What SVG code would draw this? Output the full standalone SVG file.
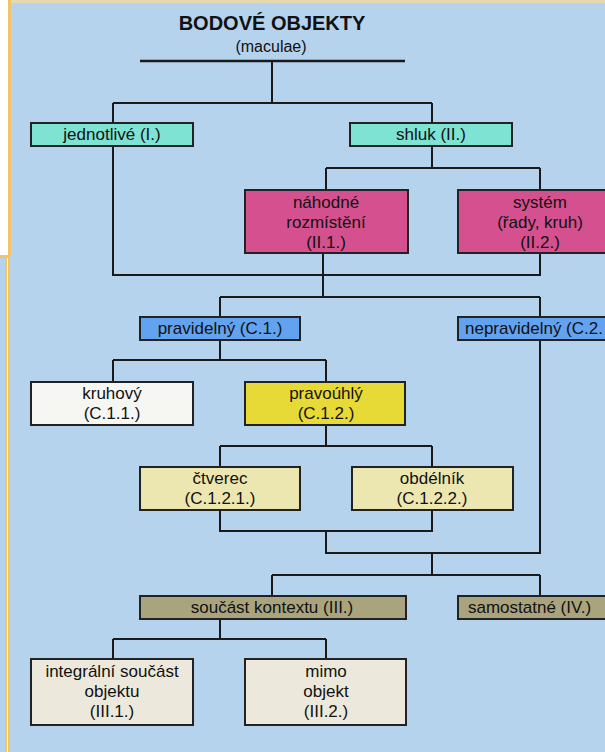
<svg xmlns="http://www.w3.org/2000/svg" width="605" height="752" viewBox="0 0 605 752">
<style>
.box{stroke:#222;stroke-width:2}
.t{font-family:"Liberation Sans",Arial,sans-serif;font-size:17px;fill:#111;text-anchor:middle}
.c{stroke:#1a1a1a;stroke-width:2;fill:none}
.aqua{fill:#7fe3d3}.mag{fill:#d5508e}.blu{fill:#62a2ef}.wht{fill:#f6f6f2}.yel{fill:#e8da36}.khk{fill:#ece6b0}.olv{fill:#aaa47e}.bei{fill:#ece9dc}
</style>
<rect x="0" y="0" width="605" height="752" fill="#b6d3ee"/>
<rect x="0" y="0" width="8" height="256" fill="#ffffff"/>
<rect x="8" y="0" width="597" height="3" fill="#e6d9ae"/>
<rect x="8" y="0" width="3" height="256" fill="#f2c466"/>
<rect x="0" y="255" width="10" height="3" fill="#f2c466"/>
<rect x="5" y="255" width="2" height="497" fill="#f2c466"/>
<rect x="7" y="258" width="1" height="494" fill="#ffffff"/>
<rect x="8" y="255" width="2" height="497" fill="#f2c466"/>

<text class="t" x="272" y="30" style="font-size:20px;font-weight:bold">BODOVÉ OBJEKTY</text>
<text class="t" x="271" y="52" style="font-size:16px">(maculae)</text>

<g id="connectors">
<path class="c" style="stroke-width:2.5" d="M140 61H405"/>
<path class="c" d="M272 61V103M113 103H432M113 103V123M432 103V123"/>
<path class="c" d="M432 146V168M326 168H540M326 168V190M540 168V190"/>
<path class="c" d="M113 146V275H540V253M323 253V297M220 297H540M220 297V317M540 297V317"/>
<path class="c" d="M220 340V360M113 360H326M113 360V382M326 360V382"/>
<path class="c" d="M326 425V446M220 446H432M220 446V467M432 446V467"/>
<path class="c" d="M220 510V531H432V510M326 531V553H540V340M432 553V575M272 575H540M272 575V596M540 575V596"/>
<path class="c" d="M220 619V639M113 639H326M113 639V659M326 639V659"/>
</g>

<g id="jednotlive"><rect class="box aqua" x="31" y="123" width="162" height="23"/><text class="t" x="112" y="140">jednotlivé (I.)</text></g>
<g id="shluk"><rect class="box aqua" x="350" y="123" width="162" height="23"/><text class="t" x="431" y="140">shluk (II.)</text></g>
<g id="nahodne"><rect class="box mag" x="245" y="190" width="163" height="63"/><text class="t" x="326" y="208">náhodné</text><text class="t" x="326" y="228">rozmístění</text><text class="t" x="326" y="248">(II.1.)</text></g>
<g id="system"><rect class="box mag" x="458" y="190" width="150" height="63"/><text class="t" x="540" y="208">systém</text><text class="t" x="540" y="228">(řady, kruh)</text><text class="t" x="540" y="248">(II.2.)</text></g>
<g id="pravidelny"><rect class="box blu" x="140" y="317" width="160" height="23"/><text class="t" x="220" y="334">pravidelný (C.1.)</text></g>
<g id="nepravidelny"><rect class="box blu" x="458" y="317" width="150" height="23"/><text class="t" x="465" y="334" style="text-anchor:start">nepravidelný (C.2.</text></g>
<g id="kruhovy"><rect class="box wht" x="31" y="382" width="162" height="43"/><text class="t" x="112" y="399">kruhový</text><text class="t" x="112" y="419">(C.1.1.)</text></g>
<g id="pravouhly"><rect class="box yel" x="245" y="382" width="160" height="43"/><text class="t" x="326" y="399">pravoúhlý</text><text class="t" x="326" y="419">(C.1.2.)</text></g>
<g id="ctverec"><rect class="box khk" x="140" y="467" width="160" height="43"/><text class="t" x="220" y="484">čtverec</text><text class="t" x="220" y="504">(C.1.2.1.)</text></g>
<g id="obdelnik"><rect class="box khk" x="352" y="467" width="161" height="43"/><text class="t" x="432" y="484">obdélník</text><text class="t" x="432" y="504">(C.1.2.2.)</text></g>
<g id="soucast"><rect class="box olv" x="140" y="596" width="266" height="23"/><text class="t" x="272" y="613">součást kontextu (III.)</text></g>
<g id="samostatne"><rect class="box olv" x="458" y="596" width="150" height="23"/><text class="t" x="468" y="613" style="text-anchor:start">samostatné (IV.)</text></g>
<g id="integralni"><rect class="box bei" x="31" y="659" width="162" height="66"/><text class="t" x="112" y="677">integrální součást</text><text class="t" x="112" y="697">objektu</text><text class="t" x="112" y="717">(III.1.)</text></g>
<g id="mimo"><rect class="box bei" x="245" y="659" width="161" height="66"/><text class="t" x="326" y="677">mimo</text><text class="t" x="326" y="697">objekt</text><text class="t" x="326" y="717">(III.2.)</text></g>
</svg>
